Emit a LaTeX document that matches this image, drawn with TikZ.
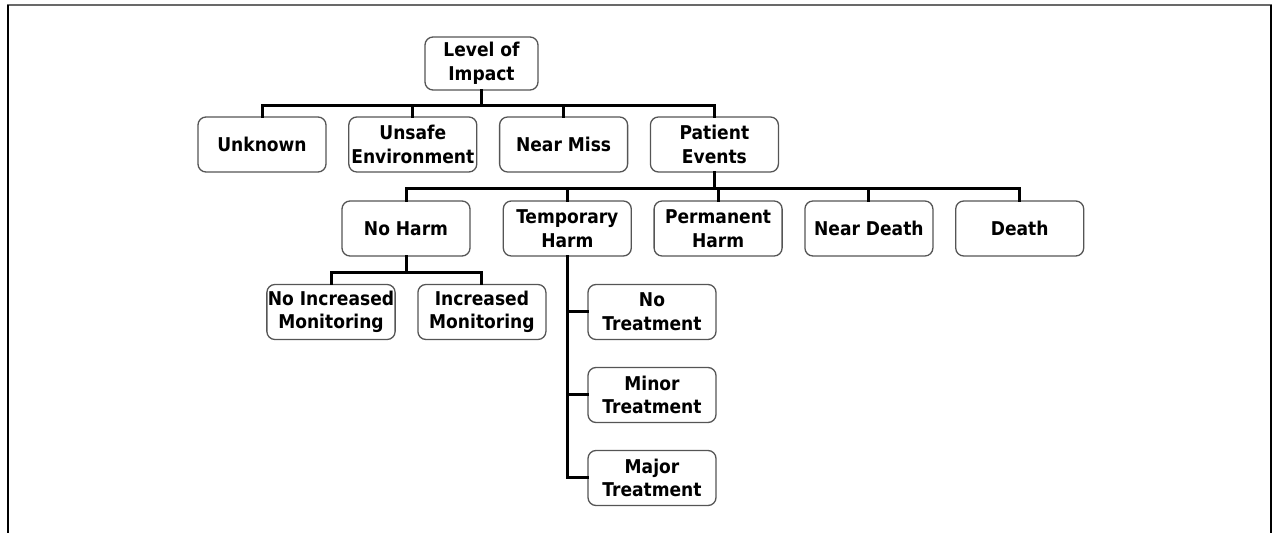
\documentclass[tikz,border=0pt]{standalone}
\usepackage{fontspec}
\setmainfont{DejaVu Sans Condensed}[BoldFont={DejaVu Sans Condensed Bold}]
\usepackage{tikz}
\usetikzlibrary{positioning,calc}
\definecolor{boxLine}{RGB}{85,85,85}
\definecolor{frameGray}{RGB}{105,105,105}
\tikzset{
  cat/.style={draw=boxLine,line width=0.65pt,rounded corners=4pt,minimum width=64pt,
              minimum height=27.5pt,inner sep=0.5pt,align=center,
              font=\fontsize{9.5}{11.8}\selectfont\bfseries},
  conn/.style={line width=1.5pt,line cap=rect},
}
\begin{document}
\begin{tikzpicture}[x=0.5pt,y=-0.5pt,node distance=11pt and 10.75pt]
  \useasboundingbox (0,0) rectangle (1273,533);
  % frame, open at the bottom
  \draw[frameGray,line width=1pt] (7,5) -- (1272,5);
  \draw[line width=1pt] (8,5) -- (8,533);
  \draw[line width=1pt] (1271,5) -- (1271,533);

  % top level
  \node[cat,minimum width=56.5pt,minimum height=26.5pt] (impact) at (481.5,63.5) {Level of\\Impact};

  \node[cat] (unknown) at (262,144.5) {Unknown};
  \node[cat,right=of unknown] (unsafe) {Unsafe\\Environment};
  \node[cat,right=of unsafe] (nearmiss) {Near Miss};
  \node[cat,right=of nearmiss] (patient) {Patient\\Events};

  % patient events
  \node[cat] (noharm) at (406,228.5) {No Harm};
  \node[cat,right=16pt of noharm] (tempharm) {Temporary\\Harm};
  \node[cat,right=of tempharm] (permharm) {Permanent\\Harm};
  \node[cat,right=of permharm] (neardeath) {Near Death};
  \node[cat,right=of neardeath] (death) {Death};

  % no harm
  \node[cat] (noincmon) at (331,312) {No Increased\\Monitoring};
  \node[cat,right=of noincmon] (incmon) {Increased\\Monitoring};

  % temporary harm
  \node[cat] (notreat) at (652,312) {No\\Treatment};
  \node[cat] (minortreat) at (652,395) {Minor\\Treatment};
  \node[cat] (majortreat) at (652,478) {Major\\Treatment};

  \foreach \kid in {unknown,unsafe,nearmiss,patient}
    \draw[conn] (impact.south) -- ++(0,15) -| (\kid.north);
  \foreach \kid in {noharm,tempharm,permharm,neardeath,death}
    \draw[conn] (patient.south) -- ++(0,16) -| (\kid.north);
  \foreach \kid in {noincmon,incmon}
    \draw[conn] (noharm.south) -- ++(0,16) -| (\kid.north);
  \foreach \kid in {notreat,minortreat,majortreat}
    \draw[conn] (tempharm.south) |- (\kid.west);
\end{tikzpicture}
\end{document}
